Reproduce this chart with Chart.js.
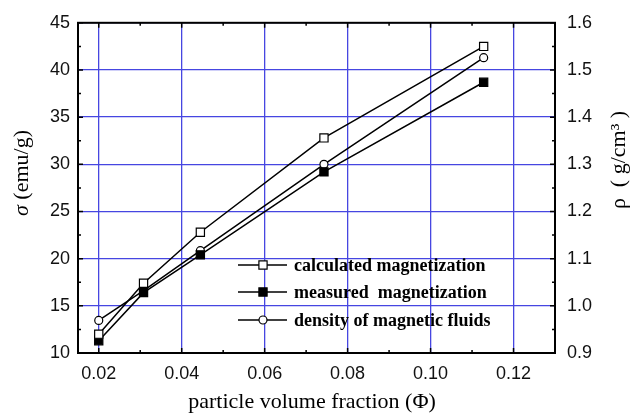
<!DOCTYPE html>
<html>
<head>
<meta charset="utf-8">
<script src="https://cdn.jsdelivr.net/npm/chart.js@4.4.1/dist/chart.umd.min.js"></script>
<style>
  html, body { margin: 0; padding: 0; background: #fff; }
  #wrap { width: 632px; height: 415px; }
</style>
</head>
<body>
<div id="wrap"><canvas id="myChart" width="632" height="415"></canvas></div>
<script>
// volume fraction of particles
const fractions = [0.02, 0.0308, 0.0445, 0.0743, 0.1128];
const calculated = [12.0, 17.4, 22.8, 32.8, 42.5];
const measured = [11.3, 16.4, 20.4, 29.2, 38.7];
const density = [0.969, 1.032, 1.117, 1.30, 1.526];

const xTicks = [0.02, 0.04, 0.06, 0.08, 0.10, 0.12];
const sigmaTicks = [10, 15, 20, 25, 30, 35, 40, 45];
const rhoTicks = [0.9, 1.0, 1.1, 1.2, 1.3, 1.4, 1.5, 1.6];

const legendLabels = ['calculated magnetization', 'measured  magnetization', 'density of magnetic fluids'];

const blue = 'rgb(70, 70, 225)';
const tickFont = { family: '"Liberation Sans", Arial, sans-serif', size: 18 };
const serif = '"Liberation Serif", "Times New Roman", serif';

const toPoints = (xs, ys) => xs.map((x, i) => ({ x, y: ys[i] }));

const datasets = [
  {
    label: legendLabels[0],
    data: toPoints(fractions, calculated),
    yAxisID: 'y',
    borderColor: '#000', borderWidth: 1.5,
    pointStyle: 'rect', pointRadius: 5.8,
    pointBackgroundColor: '#fff', pointBorderColor: '#000', pointBorderWidth: 1.2,
  },
  {
    label: legendLabels[1],
    data: toPoints(fractions, measured),
    yAxisID: 'y',
    borderColor: '#000', borderWidth: 1.5,
    pointStyle: 'rect', pointRadius: 5.8,
    pointBackgroundColor: '#000', pointBorderColor: '#000', pointBorderWidth: 1.2,
  },
  {
    label: legendLabels[2],
    data: toPoints(fractions, density),
    yAxisID: 'y1',
    borderColor: '#000', borderWidth: 1.5,
    pointStyle: 'circle', pointRadius: 4,
    pointBackgroundColor: '#fff', pointBorderColor: '#000', pointBorderWidth: 1.2,
  },
];

// frame, inward ticks, legend and axis titles
const decorations = {
  id: 'decorations',
  afterDatasetsDraw(chart) {
    const { ctx, chartArea: a, scales } = chart;
    ctx.save();
    ctx.strokeStyle = '#000';
    ctx.lineWidth = 1.5;

    const xs = scales.x;
    for (let v = 0.02; v <= 0.1201; v += 0.01) {
      const px = xs.getPixelForValue(v);
      const len = Math.round(v * 100) % 2 === 0 ? 5 : 3;
      ctx.beginPath();
      ctx.moveTo(px, a.bottom); ctx.lineTo(px, a.bottom - len);
      ctx.moveTo(px, a.top); ctx.lineTo(px, a.top + len);
      ctx.stroke();
    }
    const ys = scales.y;
    for (let v = 10; v <= 45; v += 2.5) {
      const py = ys.getPixelForValue(v);
      const len = v % 5 === 0 ? 5 : 3;
      ctx.beginPath();
      ctx.moveTo(a.left, py); ctx.lineTo(a.left + len, py);
      ctx.moveTo(a.right, py); ctx.lineTo(a.right - len, py);
      ctx.stroke();
    }

    ctx.lineWidth = 2;
    ctx.strokeRect(a.left, a.top, a.right - a.left, a.bottom - a.top);

    // legend
    const rows = [265, 292, 320];
    ctx.font = 'bold 18px ' + serif;
    ctx.textBaseline = 'middle';
    ctx.textAlign = 'left';
    chart.data.datasets.forEach((ds, i) => {
      const y = rows[i];
      ctx.strokeStyle = '#000';
      ctx.lineWidth = 1.5;
      ctx.beginPath();
      ctx.moveTo(238, y); ctx.lineTo(287, y);
      ctx.stroke();
      ctx.fillStyle = ds.pointBackgroundColor;
      ctx.lineWidth = 1.2;
      Chart.helpers.drawPoint(ctx, {
        pointStyle: ds.pointStyle, radius: ds.pointRadius, rotation: 0, borderWidth: 1.2
      }, 263, y);
      ctx.fillStyle = '#000';
      ctx.fillText(legendLabels[i], 294, y + 1);
    });

    // axis titles
    ctx.fillStyle = '#000';
    ctx.textBaseline = 'middle';

    ctx.save();
    ctx.translate(22, 173);
    ctx.rotate(-Math.PI / 2);
    const s1 = 'σ';
    const s2 = ' (emu/g)';
    ctx.font = 'italic 22px ' + serif;
    const w1 = ctx.measureText(s1).width;
    ctx.font = '22px ' + serif;
    const w2 = ctx.measureText(s2).width;
    ctx.textAlign = 'left';
    ctx.font = 'italic 22px ' + serif;
    ctx.fillText(s1, -(w1 + w2) / 2, 0);
    ctx.font = '22px ' + serif;
    ctx.fillText(s2, -(w1 + w2) / 2 + w1, 0);
    ctx.restore();

    ctx.save();
    ctx.translate(619, 160);
    ctx.rotate(-Math.PI / 2);
    ctx.font = '22px ' + serif;
    ctx.textAlign = 'center';
    ctx.fillText('ρ  ( g/cm³ )', 0, 0);
    ctx.restore();

    ctx.font = '22px ' + serif;
    ctx.textAlign = 'center';
    ctx.fillText('particle volume fraction (Φ)', 312, 402);

    ctx.restore();
  }
};

const options = {
  responsive: false,
  animation: false,
  layout: { padding: { top: 20, left: 0, right: 0, bottom: 0 } },
  plugins: { legend: { display: false }, tooltip: { enabled: false } },
  elements: { line: { tension: 0 } },
  scales: {
    x: {
      type: 'linear',
      min: 0.015, max: 0.13,
      afterBuildTicks: (s) => { s.ticks = xTicks.map(v => ({ value: v })); },
      afterFit: (s) => { s.height = 62; },
      ticks: {
        font: tickFont, color: '#111', padding: 10, maxRotation: 0,
        callback: (v) => v.toFixed(2),
      },
      grid: { color: blue, lineWidth: 1.3, drawTicks: false },
      border: { display: false },
    },
    y: {
      type: 'linear', position: 'left',
      min: 10, max: 45,
      afterBuildTicks: (s) => { s.ticks = sigmaTicks.map(v => ({ value: v })); },
      afterFit: (s) => { s.width = 78; },
      ticks: { font: tickFont, color: '#111', padding: 8 },
      grid: { color: blue, lineWidth: 1.3, drawTicks: false },
      border: { display: false },
    },
    y1: {
      type: 'linear', position: 'right',
      min: 0.9, max: 1.6,
      afterBuildTicks: (s) => { s.ticks = rhoTicks.map(v => ({ value: v })); },
      afterFit: (s) => { s.width = 77; },
      ticks: { font: tickFont, color: '#111', padding: 12, callback: (v) => v.toFixed(1) },
      grid: { display: false, drawTicks: false },
      border: { display: false },
    },
  },
};

const chart = new Chart(document.getElementById('myChart'), {
  type: 'line',
  data: { datasets },
  options,
  plugins: [decorations],
});
</script>
</body>
</html>
